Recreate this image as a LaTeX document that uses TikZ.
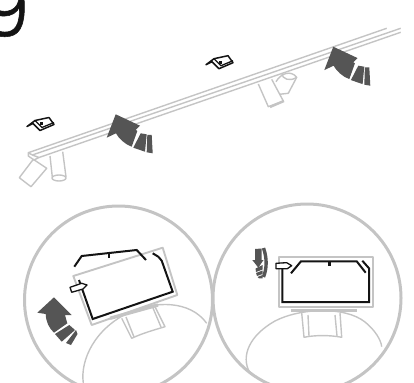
\documentclass[tikz,border=0pt]{standalone}
\usepackage{xcolor}
\usepackage{fontspec}
\setmainfont{Poppins Light}
\newfontfamily\stepfont[FakeBold=0.7]{Poppins Light}
\definecolor{railgrey}{RGB}{196,196,196}
\definecolor{arrowgrey}{RGB}{85,85,85}
\definecolor{inkblack}{RGB}{20,20,20}
\tikzset{
  thinpart/.style={draw=railgrey, line width=1.4pt, line join=round},
  ringpart/.style={draw=railgrey, line width=3pt},
  boxpart/.style={draw=railgrey, line width=1.9pt, line join=round},
  platepart/.style={draw=railgrey, line width=3.4pt},
  profilepart/.style={draw=inkblack, line width=2pt, line join=miter},
  pointerpart/.style={draw=inkblack, line width=1.3pt, fill=white, line join=round},
  turnpart/.style={fill=arrowgrey, draw=none},
  pics/clipmark/.style={code={
    \draw[draw=inkblack, line width=1.5pt, line join=round, fill=white]
      (-14,2) -- (-6,-4) -- (8,-7) -- (13,0) -- (-1,6) -- (-8,-1) -- cycle;
    \draw[draw=inkblack, line width=1.3pt] (-6,-4) -- (1,3) -- (13,-2);
    \fill[inkblack] (-1,-2) rectangle (2,1);
  }},
  pics/turnarrow/.style={code={
    \fill[turnpart] (0,0) -- (-9,23.4) -- (0.3,19) .. controls (3,24) and (9,30) .. (16,32.4)
      -- (21.6,16.7) -- (20,15.5) -- (24.3,11.4) -- cycle;
    \fill[turnpart] (25,19) -- (31,20) -- (29.3,37.4) -- (17.6,33.4) -- cycle;
    \fill[turnpart] (31.6,20.7) -- (36,20.7) -- (37,39) -- (31,38) -- cycle;
  }}
}
\begin{document}
\begin{tikzpicture}[x=1pt, y=-1pt]
\useasboundingbox (0,0) rectangle (414,382);

\node[anchor=south east, inner sep=0pt, font=\stepfont\fontsize{80}{80}\selectfont, text=inkblack] (stepnumber) at (30,37) {9};

% rail with spots
\draw[thinpart] (28.3,152.7) -- (386.7,28.3);
\draw[thinpart] (32.3,155) -- (400.7,28.3);
\draw[thinpart] (39,157.5) -- (400.7,32.3);
\draw[thinpart] (28.3,152.7) -- (28.3,156) -- (34,160) -- (39,157.5) -- (32.3,155) -- cycle;
\draw[thinpart] (33.3,159.3) -- (46.7,168.3) -- (31,186.7) -- (19.3,177.7) -- cycle;
\draw[thinpart] (50,156) -- (52.3,177) (62.7,151.7) -- (66,177);
\draw[thinpart] (59,178) ellipse (7 and 3);
\draw[thinpart] (258.3,84) -- (268.3,106.7) -- (283.3,101) -- (271.7,79.3);
\draw[draw=railgrey, line width=2.4pt] (270,107) -- (284,101);
\draw[thinpart] (276,81.7) .. controls (281,73) and (291,70) .. (296.7,77.3) -- (288.3,93.3) -- (279.3,94.3);
\draw[thinpart] (281.7,73.3) .. controls (282,79) and (290,82) .. (296.7,77.3);

\pic at (41,124.5) {clipmark};
\pic at (220,62.7) {clipmark};
\pic at (115.7,114.3) {turnarrow};
\pic at (333.3,46.7) {turnarrow};

% left detail
\draw[ringpart] (118.5,300) circle (94);
\draw[thinpart] (83.3,383) .. controls (80,360) and (95,328) .. (130,312) .. controls (155,301) and (190,300) .. (206.7,323.3);
\draw[thinpart] (121.7,318.3) -- (131.7,338.3) .. controls (143,333) and (154,330) .. (165,326.7) -- (155,306.7);
\draw[thinpart] (126,317) -- (134,337) (153,308) -- (161,327);
\draw[platepart] (110,318.3) -- (158,305);
\draw[boxpart] (73.3,276) -- (162.7,247.7) -- (177.3,295) -- (91.7,325) -- cycle;
\draw[profilepart] (79,280) -- (92.7,319) -- (172.7,291.7) -- (161.7,260.7) -- (158.3,256.7) -- (152.7,253.3);
\draw[profilepart] (74.3,266.7) -- (81.7,256) -- (136.7,250) -- (146,260);
\draw[profilepart] (109.3,254) -- (109.3,258);
\draw[pointerpart] (70,287.3) -- (81.7,283.3) -- (87,285) -- (83,289) -- (71.7,292.3) -- cycle;
\fill[turnpart] (54,297.3) -- (37.3,312.7) -- (45.7,314) .. controls (46,322) and (49,328) .. (54,332.7)
  -- (67.3,323.3) -- (65,315) -- (71.7,315) -- cycle;
\fill[turnpart] (55,334) -- (69.3,325) -- (75,330) -- (61.7,341.7) -- cycle;
\fill[turnpart] (76,330) -- (77.5,334) -- (71,345) -- (66,343) -- cycle;

% right detail
\draw[ringpart] (307,298) circle (94);
\draw[thinpart] (250,373) .. controls (240,356) and (250,335) .. (275,321) .. controls (300,308) and (345,306) .. (365,322) .. controls (375,330) and (381,340) .. (381.7,346.7);
\draw[thinpart] (301.7,313) -- (304,337.3) .. controls (315,335) and (330,335) .. (341.7,337.3) -- (340,313);
\draw[thinpart] (308,315) -- (309,336) (335,315) -- (337,336);
\draw[platepart] (290.7,310.7) -- (356.7,310.7);
\draw[boxpart] (279,257.3) rectangle (373.3,307.3);
\draw[profilepart] (282.3,262.7) -- (282.3,302) -- (369,302) -- (369,268.3) -- (362.3,260.7);
\draw[profilepart] (291,273.3) -- (301,261.3) -- (356.7,261.3) -- (365.7,272.7);
\draw[draw=inkblack, line width=3pt] (329,262) -- (329,266);
\draw[pointerpart] (276,263.3) -- (286.7,262.7) -- (291.7,265.7) -- (287.3,268.7) -- (276,268.7) -- cycle;
\fill[turnpart] (255,249) -- (261.7,248.5) -- (261.7,260) -- (263.5,260) -- (258.3,267.7) -- (252.3,260) -- (255,260) -- cycle;
\draw[draw=arrowgrey, line width=3.4pt] (263.5,248) .. controls (267,258) and (267,268) .. (263.5,277);
\fill[turnpart] (255.5,268.5) -- (262.5,265) -- (262.5,269.5) -- (256,272) -- cycle;
\fill[turnpart] (256,273) -- (262.5,270.5) -- (262.5,274) -- (257,276) -- cycle;
\fill[turnpart] (257.5,277) -- (262.5,275) -- (262.5,278.3) -- (259,278.3) -- cycle;
\end{tikzpicture}
\end{document}
